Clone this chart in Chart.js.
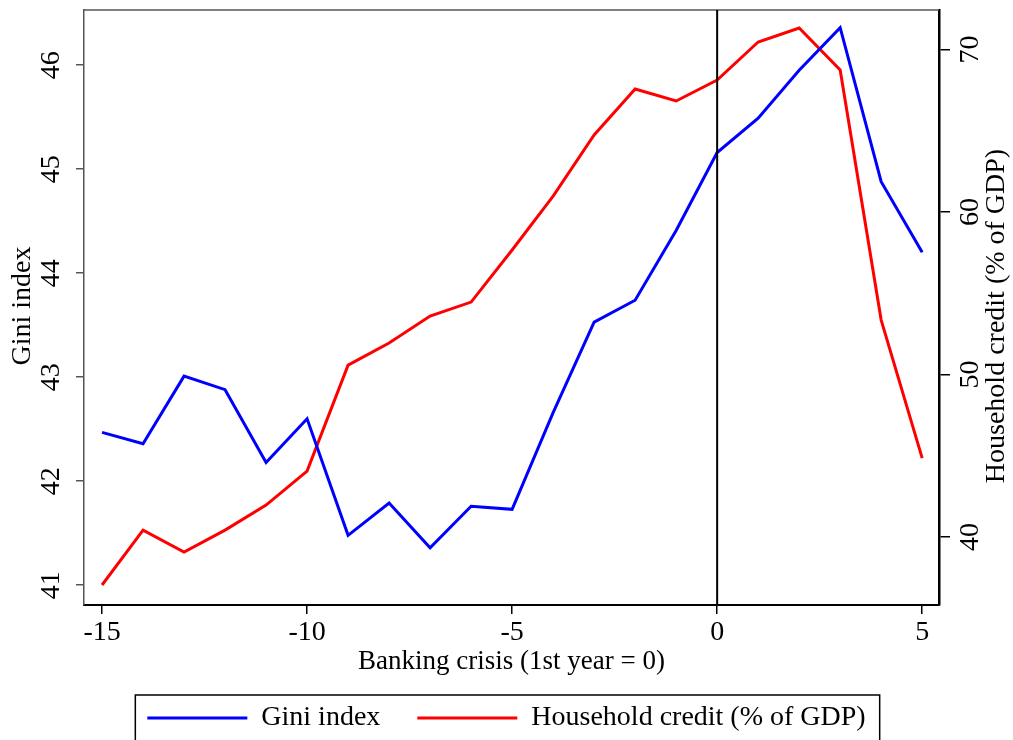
<!DOCTYPE html>
<html>
<head>
<meta charset="utf-8">
<script src="https://cdn.jsdelivr.net/npm/chart.js@4/dist/chart.umd.min.js"></script>
<style>
  html, body { margin: 0; padding: 0; background: #fff; }
  #wrap { width: 1013px; height: 740px; position: relative; }
</style>
</head>
<body>
<div id="wrap"><canvas id="chart"></canvas></div>
<script>
const years = [-15, -14, -13, -12, -11, -10, -9, -8, -7, -6, -5, -4, -3, -2, -1, 0, 1, 2, 3, 4, 5];
const giniIndex = [42.47, 42.36, 43.01, 42.88, 42.18, 42.6, 41.48, 41.79, 41.36, 41.76, 41.73,
    42.66, 43.53, 43.74, 44.41, 45.16, 45.49, 45.95, 46.36, 44.88, 44.2];
const householdCredit = [37.05, 40.43, 39.08, 40.43, 41.97, 44.06, 50.58, 51.94, 53.6, 54.46, 57.66,
    60.98, 64.74, 67.57, 66.83, 68.12, 70.46, 71.32, 68.74, 53.35, 44.86];
const xTicks = [-15, -10, -5, 0, 5];
const giniTicks = [41, 42, 43, 44, 45, 46];
const creditTicks = [40, 50, 60, 70];

const serif = '"Liberation Serif", "DejaVu Serif", serif';

function rotatedText(ctx, text, x, y) {
    ctx.save();
    ctx.translate(x, y);
    ctx.rotate(-Math.PI / 2);
    ctx.fillText(text, 0, 0);
    ctx.restore();
}

// y scale labels read bottom-to-top, plus frame, crisis line and legend box
const extras = {
    id: 'extras',
    afterDraw(chart) {
        const ctx = chart.ctx;
        const area = chart.chartArea;
        const x = chart.scales.x, yl = chart.scales.y, yr = chart.scales.y2;

        ctx.save();
        // top border
        ctx.strokeStyle = '#555';
        ctx.lineWidth = 1.5;
        ctx.beginPath();
        ctx.moveTo(area.left, area.top);
        ctx.lineTo(area.right, area.top);
        ctx.stroke();

        // crisis year line
        const x0 = x.getPixelForValue(0);
        ctx.strokeStyle = '#000';
        ctx.lineWidth = 2;
        ctx.beginPath();
        ctx.moveTo(x0, area.top);
        ctx.lineTo(x0, area.bottom);
        ctx.stroke();

        ctx.fillStyle = '#000';
        ctx.textAlign = 'center';
        ctx.textBaseline = 'middle';
        ctx.font = '28px ' + serif;
        yl.ticks.forEach(t => rotatedText(ctx, String(t.value), 52, yl.getPixelForValue(t.value)));
        yr.ticks.forEach(t => rotatedText(ctx, String(t.value), 971, yr.getPixelForValue(t.value)));
        rotatedText(ctx, 'Gini index', 23, 306);
        rotatedText(ctx, 'Household credit (% of GDP)', 997, 316);

        // legend frame
        const boxes = chart.legend.legendHitBoxes;
        if (boxes && boxes.length) {
            const l = Math.min(...boxes.map(b => b.left)) - 12;
            const r = Math.max(...boxes.map(b => b.left + b.width)) + 14;
            ctx.strokeStyle = '#000';
            ctx.lineWidth = 1.5;
            ctx.strokeRect(l, 695, r - l, 60);
        }
        ctx.restore();
    }
};

new Chart(document.getElementById('chart'), {
    type: 'line',
    data: {
        labels: years,
        datasets: [{
            label: 'Gini index',
            data: years.map((yr, i) => ({ x: yr, y: giniIndex[i] })),
            borderColor: '#0000ff',
            backgroundColor: '#0000ff',
            borderWidth: 3,
            pointRadius: 0,
            yAxisID: 'y'
        }, {
            label: 'Household credit (% of GDP)',
            data: years.map((yr, i) => ({ x: yr, y: householdCredit[i] })),
            borderColor: '#ff0000',
            backgroundColor: '#ff0000',
            borderWidth: 3,
            pointRadius: 0,
            yAxisID: 'y2'
        }]
    },
    options: {
        responsive: true,
        maintainAspectRatio: false,
        animation: false,
        layout: { padding: { top: 10 } },
        plugins: {
            tooltip: { enabled: false },
            legend: {
                position: 'bottom',
                maxHeight: 73,
                labels: {
                    usePointStyle: true,
                    pointStyle: 'line',
                    pointStyleWidth: 100,
                    padding: 37,
                    color: '#000',
                    font: { family: serif, size: 28 }
                }
            }
        },
        scales: {
            x: {
                type: 'linear',
                min: -15.44,
                max: 5.41,
                afterBuildTicks: s => { s.ticks = xTicks.map(v => ({ value: v })); },
                afterFit: s => { s.height = 62; },
                grid: { drawOnChartArea: false, tickLength: 9, color: '#000', lineWidth: 1.5 },
                border: { color: '#000', width: 2 },
                ticks: { color: '#000', padding: 2, maxRotation: 0, font: { family: serif, size: 28 } },
                title: {
                    display: true,
                    text: 'Banking crisis (1st year = 0)',
                    color: '#000',
                    padding: { top: 0, bottom: -11 },
                    font: { family: serif, size: 27 }
                }
            },
            y: {
                position: 'left',
                min: 40.81,
                max: 46.53,
                afterBuildTicks: s => { s.ticks = giniTicks.map(v => ({ value: v })); },
                afterFit: s => { s.width = 84; },
                grid: { drawOnChartArea: false, tickLength: 8, color: '#555', lineWidth: 1.5 },
                border: { color: '#555', width: 1.5 },
                ticks: { display: false }
            },
            y2: {
                position: 'right',
                min: 35.82,
                max: 72.43,
                afterBuildTicks: s => { s.ticks = creditTicks.map(v => ({ value: v })); },
                afterFit: s => { s.width = 74; },
                grid: { drawOnChartArea: false, tickLength: 11, color: '#000', lineWidth: 1.5 },
                border: { color: '#000', width: 2.5 },
                ticks: { display: false }
            }
        }
    },
    plugins: [extras]
});
</script>
</body>
</html>
